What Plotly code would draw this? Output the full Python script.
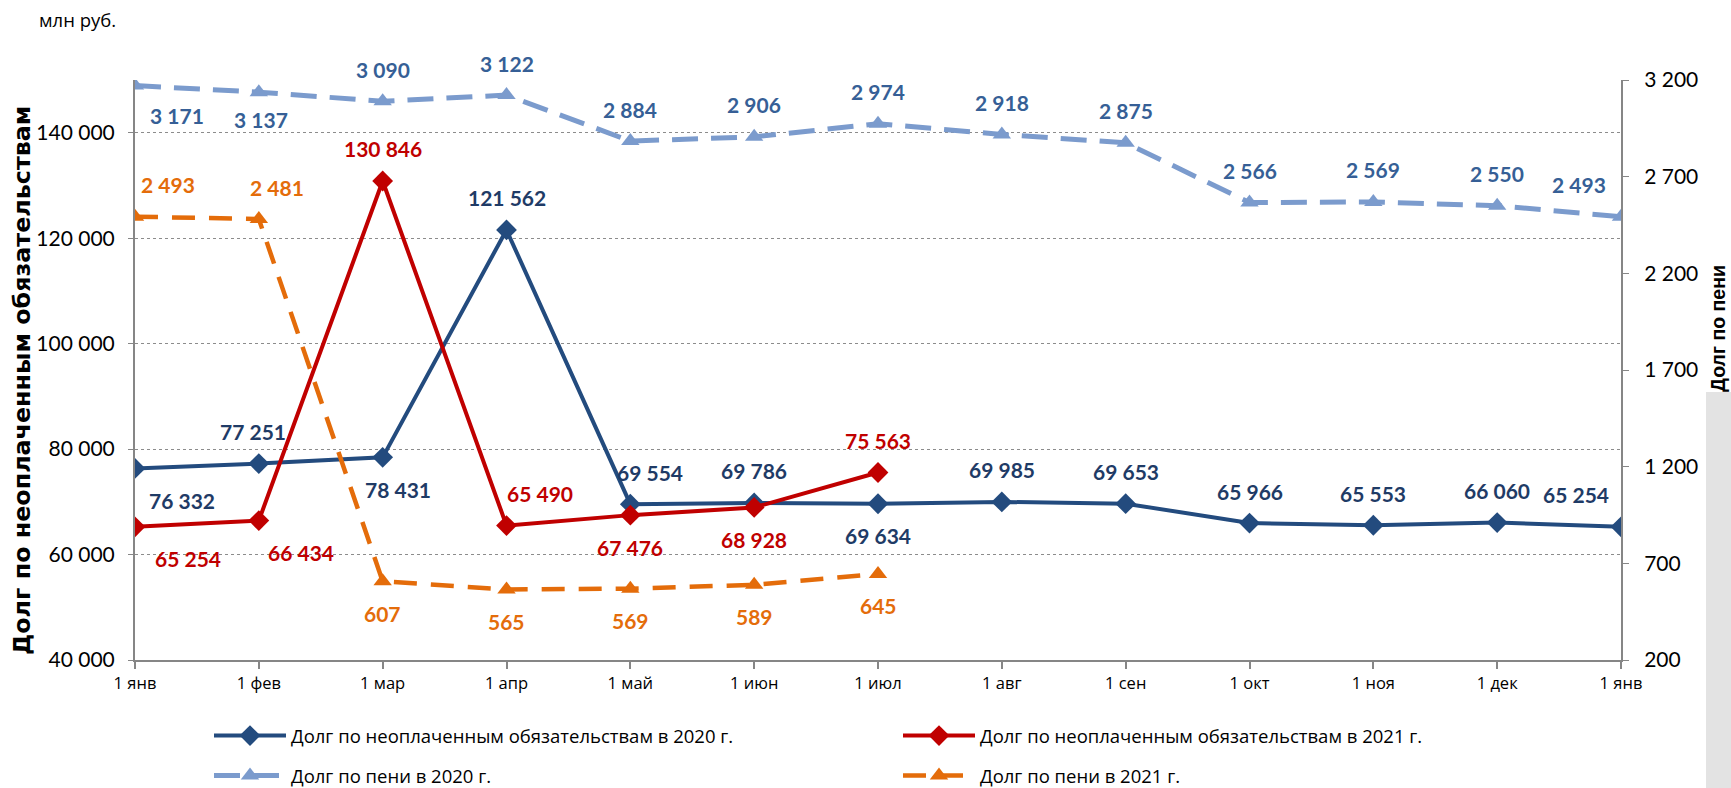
import plotly.graph_objects as go

months = ["1 янв", "1 фев", "1 мар", "1 апр", "1 май", "1 июн", "1 июл",
          "1 авг", "1 сен", "1 окт", "1 ноя", "1 дек", "1 янв"]
debt_2020 = [76332, 77251, 78431, 121562, 69554, 69786, 69634, 69985, 69653, 65966, 65553, 66060, 65254]
debt_2021 = [65254, 66434, 130846, 65490, 67476, 68928, 75563]
peni_2020 = [3171, 3137, 3090, 3122, 2884, 2906, 2974, 2918, 2875, 2566, 2569, 2550, 2493]
peni_2021 = [2493, 2481, 607, 565, 569, 589, 645]

names = ["Долг по неоплаченным обязательствам в 2020 г.",
         "Долг по неоплаченным обязательствам в 2021 г.",
         "Долг по пени в 2020 г.",
         "Долг по пени в 2021 г."]

# label placement (style only): (xshift, yshift) in px
A = 32
pos_debt_2020 = [(47, -A), (-6, A), (15, -A), (0, A), (20, A), (0, A), (0, -A), (0, A), (0, A), (0, A), (0, A), (0, A), (-45, A)]
pos_debt_2021 = [(53, -A), (42, -A), (0, A), (33, A), (0, -A), (0, -A), (0, A)]
pos_peni_2020 = [(42, -30), (2, -27), (0, A), (0, A), (0, A), (0, A), (0, A), (0, A), (0, A), (0, A), (0, A), (0, A), (-42, A)]
pos_peni_2021 = [(33, A), (18, A), (0, -A), (0, -A), (0, -A), (0, -A), (0, -A)]

NAVY, RED, LBLUE, ORANGE = "#234b7e", "#c00000", "#7b9bcd", "#e46c0a"
NAVY_T, RED_T, LBLUE_T, ORANGE_T = "#1f3b66", "#c00000", "#365f96", "#e46c0a"

L, R, T, B = 135, 110, 80, 128
W, H = 1731, 788
PW, PH = W - L - R, H - T - B


def px_x(p):
    return (p - L) / PW


def px_y(p):
    return (H - B - p) / PH


def fmt(v):
    return f"{v:,}".replace(",", " ")


fig = go.Figure()
fig.add_trace(go.Scatter(x=list(range(len(debt_2020))), y=debt_2020, name=names[0], mode="lines+markers",
                         line=dict(color=NAVY, width=4), marker=dict(symbol="diamond", size=16, color=NAVY),
                         legend="legend", yaxis="y"))
fig.add_trace(go.Scatter(x=list(range(len(debt_2021))), y=debt_2021, name=names[1], mode="lines+markers",
                         line=dict(color=RED, width=4), marker=dict(symbol="diamond", size=16, color=RED),
                         legend="legend", yaxis="y"))
fig.add_trace(go.Scatter(x=list(range(len(peni_2020))), y=peni_2020, name=names[2], mode="lines+markers",
                         line=dict(color=LBLUE, width=5, dash="26px,13px"),
                         marker=dict(symbol="triangle-up", size=16, color=LBLUE),
                         legend="legend2", yaxis="y2"))
fig.add_trace(go.Scatter(x=list(range(len(peni_2021))), y=peni_2021, name=names[3], mode="lines+markers",
                         line=dict(color=ORANGE, width=4.5, dash="23px,14px"),
                         marker=dict(symbol="triangle-up", size=16, color=ORANGE),
                         legend="legend2", yaxis="y2"))

label_font = "Lato, Open Sans, sans-serif"
annotations = []
for vals, pos, col, yref in [(debt_2020, pos_debt_2020, NAVY_T, "y"),
                             (debt_2021, pos_debt_2021, RED_T, "y"),
                             (peni_2020, pos_peni_2020, LBLUE_T, "y2"),
                             (peni_2021, pos_peni_2021, ORANGE_T, "y2")]:
    for i, v in enumerate(vals):
        annotations.append(dict(x=i, y=v, xref="x", yref=yref, text="<b>" + fmt(v) + "</b>",
                                showarrow=False, xshift=pos[i][0], yshift=pos[i][1],
                                font=dict(family=label_font, size=21, color=col)))

annotations += [
    dict(text="<b>Долг по неоплаченным обязательствам</b>", xref="paper", yref="paper",
         x=px_x(22), y=px_y(381), xanchor="center", yanchor="middle", textangle=-90, showarrow=False,
         font=dict(family="DejaVu Sans, Verdana, sans-serif", size=23.8, color="#000")),
    dict(text="<b>Долг по пени</b>", xref="paper", yref="paper",
         x=px_x(1718), y=px_y(329), xanchor="center", yanchor="middle", textangle=-90, showarrow=False,
         font=dict(family="Liberation Sans, Arial, sans-serif", size=19.5, color="#000")),
    dict(text="млн руб.", xref="paper", yref="paper", x=px_x(37), y=px_y(19),
         xanchor="left", yanchor="middle", showarrow=False,
         font=dict(family="Open Sans, sans-serif", size=18.5, color="#000")),
]

shapes = [dict(type="rect", xref="paper", yref="paper", x0=px_x(1706), x1=px_x(1760),
               y0=px_y(820), y1=px_y(392), fillcolor="#e3e3e3", line=dict(width=0), layer="below")]

axis_col = "#868686"
tick_font = dict(family="Lato, Open Sans, sans-serif", size=21, color="#000")
legend_font = dict(family="Open Sans, sans-serif", size=18.5, color="#000")
fig.update_layout(
    width=W, height=H,
    margin=dict(l=L, r=R, t=T, b=B, autoexpand=False),
    paper_bgcolor="white", plot_bgcolor="white",
    separators=", ",
    showlegend=True,
    xaxis=dict(range=[0, 12], tickvals=list(range(len(months))), ticktext=months,
               showgrid=False, zeroline=False, showline=True, linecolor=axis_col, linewidth=2,
               ticks="outside", ticklen=7, tickcolor=axis_col, tickwidth=1.5,
               tickfont=dict(family="Open Sans, sans-serif", size=16.5, color="#000")),
    yaxis=dict(range=[40000, 150000], tick0=40000, dtick=20000, tickformat=",d",
               showgrid=True, gridcolor="#8c8c8c", griddash="dot", gridwidth=1,
               zeroline=False, showline=True, linecolor=axis_col, linewidth=2,
               ticks="outside", ticklen=5, tickcolor=axis_col, tickfont=tick_font,
               ticklabelstandoff=9),
    yaxis2=dict(range=[200, 3200], tick0=200, dtick=500, tickformat=",d", overlaying="y", side="right",
                showgrid=False, zeroline=False, showline=True, linecolor=axis_col, linewidth=2,
                ticks="outside", ticklen=6, tickcolor=axis_col, tickfont=tick_font,
                ticklabelstandoff=11),
    legend=dict(orientation="h", x=px_x(209), xanchor="left", y=px_y(736), yanchor="middle",
                entrywidth=602, itemwidth=72, font=legend_font, bgcolor="rgba(0,0,0,0)"),
    legend2=dict(orientation="h", x=px_x(209), xanchor="left", y=px_y(776), yanchor="middle",
                 entrywidth=602, itemwidth=72, font=legend_font, bgcolor="rgba(0,0,0,0)"),
    annotations=annotations,
    shapes=shapes,
)

fig.write_html("out.html", config={"displayModeBar": False},
               post_script="document.body.style.margin='0';document.body.style.overflow='hidden';")
